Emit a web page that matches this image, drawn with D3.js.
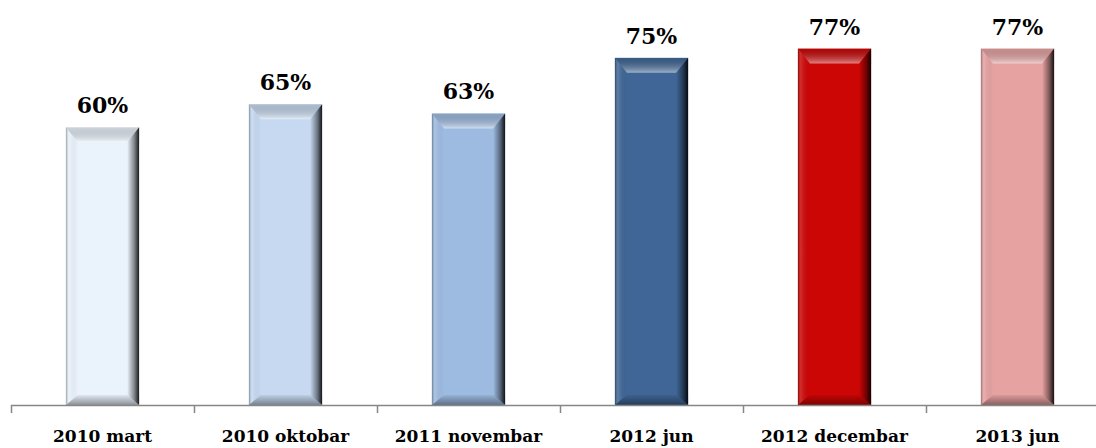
<!DOCTYPE html>
<html><head><meta charset="utf-8">
<script src="https://cdn.jsdelivr.net/npm/d3@7"></script>
<style>html,body{margin:0;padding:0;background:#fff;}svg{display:block;}</style>
</head><body>
<script>
const categories = ["2010 mart","2010 oktobar","2011 novembar","2012 jun","2012 decembar","2013 jun"];
const values = [60,65,63,75,77,77];
const labels = ["60%","65%","63%","75%","77%","77%"];
const colors = ["#EAF2FC","#C6D9F1","#9DBBE1","#3F6696","#CC0505","#E6A1A1"];

const W=1096,H=448;
const svg=d3.select("body").append("svg").attr("width",W).attr("height",H);
const x=d3.scaleBand().domain(categories).range([11,1109]).paddingInner(0.6).paddingOuter(0.3);
const y=d3.scaleLinear().domain([0,87.5]).range([405,0]);
const FONT="'DejaVu Serif', 'Liberation Serif', serif";

const defs=svg.append("defs");
function grad(id,x1,y1,x2,y2,stops){
  const g=defs.append("linearGradient").attr("id",id).attr("x1",x1).attr("y1",y1).attr("x2",x2).attr("y2",y2);
  stops.forEach(s=>g.append("stop").attr("offset",s[0]).attr("stop-color",s[1]).attr("stop-opacity",s[2]));
}
grad("gl",0,0,1,0,[[0,"#000",0.35],[0.25,"#fff",0.15],[1,"#000",0]]);
grad("gr",0,0,1,0,[[0,"#000",0],[0.6,"#000",0.45],[1,"#000",0.9]]);
grad("gt",0,0,0,1,[[0,"#000",0.12],[1,"#fff",0.5]]);
grad("gb",0,0,0,1,[[0,"#000",0.05],[1,"#000",0.4]]);

const bw=x.bandwidth(), bs=12, bt=15, bb=10;
const g=svg.selectAll("g.bar").data(categories).join("g").attr("class","bar");
g.each(function(c,i){
  const el=d3.select(this);
  const x0=x(c), x1=x0+bw, y0=y(values[i]), y1=y(0);
  el.append("rect").attr("x",x0).attr("y",y0).attr("width",bw).attr("height",y1-y0).attr("fill",colors[i]);
  const P=pts=>pts.map(p=>p.join(",")).join(" ");
  el.append("polygon").attr("points",P([[x0,y0],[x1,y0],[x1-bs,y0+bt],[x0+bs,y0+bt]])).attr("fill","url(#gt)");
  el.append("polygon").attr("points",P([[x0,y1],[x1,y1],[x1-bs,y1-bb],[x0+bs,y1-bb]])).attr("fill","url(#gb)");
  el.append("polygon").attr("points",P([[x0,y0],[x0+bs,y0+bt],[x0+bs,y1-bb],[x0,y1]])).attr("fill","url(#gl)");
  el.append("polygon").attr("points",P([[x1,y0],[x1-bs,y0+bt],[x1-bs,y1-bb],[x1,y1]])).attr("fill","url(#gr)");
  el.append("text").attr("x",x0+bw/2).attr("y",y0-14).attr("text-anchor","middle")
    .attr("font-family",FONT).attr("font-weight","bold").attr("font-size",22).attr("fill","#000").text(labels[i]);
});

// axis
const step=x.step(), start=x.range()[0];
svg.append("line").attr("x1",11).attr("x2",W).attr("y1",405.5).attr("y2",405.5).attr("stroke","#868686").attr("stroke-width",1.5);
d3.range(categories.length+1).forEach(i=>{
  const xx=Math.round(start+i*step)+0.5;
  svg.append("line").attr("x1",xx).attr("x2",xx).attr("y1",405).attr("y2",413).attr("stroke","#868686").attr("stroke-width",1.5);
});
svg.selectAll("text.cat").data(categories).join("text").attr("class","cat")
  .attr("x",c=>x(c)+bw/2).attr("y",442).attr("text-anchor","middle")
  .attr("font-family",FONT).attr("font-weight","bold").attr("font-size",17).attr("fill","#000").text(c=>c);
</script>
</body></html>
